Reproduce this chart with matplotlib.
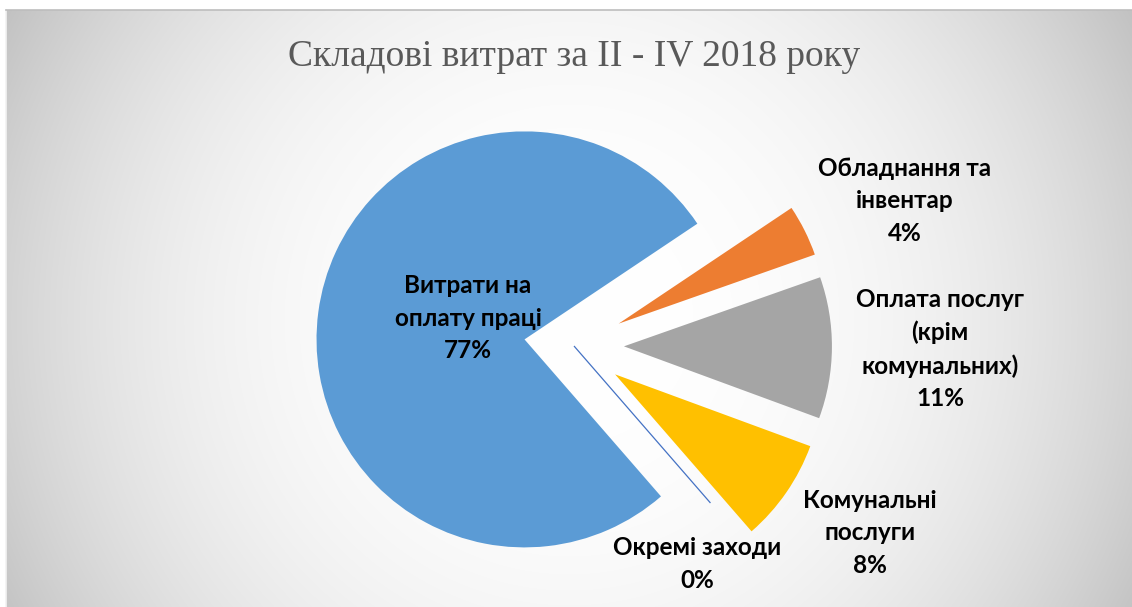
import numpy as np
import matplotlib.pyplot as plt

# data
categories = ['Витрати на\nоплату праці', 'Обладнання та\nінвентар',
              'Оплата послуг\n(крім\nкомунальних)', 'Комунальні\nпослуги',
              'Окремі заходи']
shares = [77, 4, 11, 8, 0]
colors = ['#5B9BD5', '#ED7D31', '#A5A5A5', '#FFC000', '#4472C4']
title = 'Складові витрат за II - IV 2018 року'

W, H = 1132, 607
fig = plt.figure(figsize=(W / 100, H / 100), dpi=100)

# chart area background: radial grey gradient
left, top = 6, 10
bg = fig.add_axes([left / W, 0, 1 - left / W, 1 - top / H])
xx, yy = np.meshgrid(np.arange(left, W), np.arange(top, H))
cx, cy = 569, 320
d = np.hypot(xx - cx, yy - cy) / np.hypot(cx - left, cy - top)
shade = 1 - 0.24 * np.clip(d, 0, 1) ** 2.5
bg.imshow(np.dstack([shade] * 3), aspect='auto', interpolation='bilinear')
bg.set_xticks([])
bg.set_yticks([])
for side in ['right', 'bottom']:
    bg.spines[side].set_visible(False)
bg.spines['top'].set_color('#bdbdbd')
bg.spines['left'].set_color('#f2f2f2')
bg.spines['top'].set_linewidth(1.2)
bg.spines['left'].set_linewidth(1.2)

# page number peeking from above
fig.text(575 / W, 1 - 3 / H, '26', ha='center', va='bottom',
         fontsize=14, fontweight='bold', family='DejaVu Sans')

ax = fig.add_axes([0, 0, 1, 1])
ax.patch.set_alpha(0)
pcx, pcy, r = 574, H - 346, 208
expl = 0.24 * r   # pie() takes the offset in data units
wedges, _ = ax.pie(shares, colors=colors, startangle=-49, counterclock=False,
                   explode=[expl, expl, expl, expl, 0], radius=r,
                   center=(pcx, pcy), wedgeprops=dict(linewidth=0))
wedges[-1].set_edgecolor(colors[-1])
wedges[-1].set_linewidth(0.9)
ax.set_xlim(0, W)
ax.set_ylim(0, H)
ax.set_aspect('auto')
ax.axis('off')

label_font = dict(family=['Lato', 'DejaVu Sans'], fontweight='bold', fontsize=17.5,
                  ha='center', va='center', linespacing=1.5, color='black')
label_pos = [(468, 318), (905, 201), (940, 349), (870, 533), (697, 564)]
for name, val, (lx, ly) in zip(categories, shares, label_pos):
    ax.text(lx, H - ly, f'{name}\n{val}%', **label_font)

fig.text(574 / W, 1 - 57 / H, title, ha='center', va='center',
         fontsize=27, family='Liberation Serif', color='#595959')

fig.savefig('out.png', dpi=100)
